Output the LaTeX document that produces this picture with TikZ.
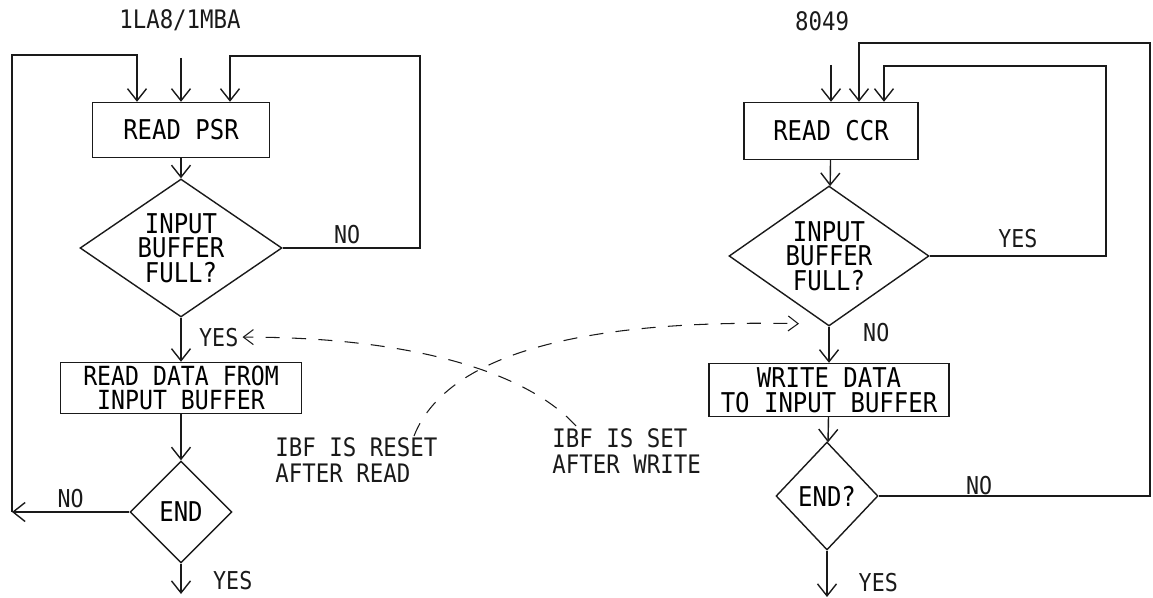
\documentclass[tikz,border=0pt]{standalone}
\usepackage{fontspec}
\setmainfont{DejaVu Sans Mono}[FakeStretch=0.88]
\usetikzlibrary{positioning,arrows.meta,calc,shapes.geometric}
\definecolor{ink}{HTML}{1A1A1A}
\tikzset{
  box/.style={draw=ink,line width=0.8pt,inner sep=0pt,align=center,font=\fontsize{15.5}{14}\selectfont},
  decision/.style={draw=ink,line width=0.8pt,diamond,inner sep=0pt,align=center,font=\fontsize{15.5}{14}\selectfont},
  flow/.style={-{Straight Barb[length=2.4mm,width=3.8mm]},draw=ink,line width=0.8pt},
  dflow/.style={-{Straight Barb[length=2mm,width=3mm]},draw=ink,line width=0.6pt,dash pattern=on 8pt off 7pt},
  lbl/.style={font=\fontsize{14}{14}\selectfont,inner sep=2pt,text=ink},
  note/.style={align=left,font=\fontsize{14.5}{15}\selectfont,inner sep=0pt,text=ink}}

\begin{document}
\begin{tikzpicture}[x=0.02cm,y=-0.02cm]
  \useasboundingbox (0,0) rectangle (1153,598);
  % reading side
  \node[lbl,font=\fontsize{14.5}{15}\selectfont] (titleL) at (180,20) {1LA8/1MBA};
  \node[box,minimum width=3.54cm,minimum height=1.1cm] (psr) at (181,130) {READ PSR};
  \node[decision,minimum width=4.04cm,minimum height=2.76cm,shape aspect=1.45] (full1) at (181,248) {INPUT\\BUFFER\\FULL?};
  \node[box,minimum width=4.82cm,minimum height=1.02cm,font=\fontsize{15}{14}\selectfont] (rdbuf) at (181,388) {READ DATA FROM\\INPUT BUFFER};
  \node[decision,minimum width=2.04cm,minimum height=2.04cm] (end1) at (181,512) {END};
  \coordinate (inL) at (181,58);
  \coordinate (noL) at (12,512);
  \coordinate (topL) at (12,55);
  \coordinate (topR) at (420,56);
  \coordinate (outL) at (181,594);
  \draw[flow] (inL) -- (psr.north);
  \draw[flow] (noL) -- (topL) -| ([xshift=-0.88cm]psr.north);
  \draw[flow] (full1.east) -- node[lbl,above,pos=0.47]{NO} (full1.east -| topR) -- (topR) -| ([xshift=0.98cm]psr.north);
  \draw[flow] (psr) -- (full1);
  \draw[flow] (full1) -- node[lbl,right,pos=0.44,xshift=0.28cm] (yes1) {YES} (rdbuf);
  \draw[flow] (rdbuf) -- (end1);
  \draw[flow] (end1.west) -- node[lbl,above]{NO} (noL);
  \draw[flow] (end1) -- node[lbl,right,pos=0.55,xshift=0.56cm]{YES} (outL);
  % writing side
  \node[lbl,font=\fontsize{14.5}{15}\selectfont] (titleR) at (822,21) {8049};
  \node[box,minimum width=3.48cm,minimum height=1.14cm] (ccr) at (831,131) {READ CCR};
  \node[decision,minimum width=4cm,minimum height=2.8cm,shape aspect=1.43] (full2) at (829,256) {INPUT\\BUFFER\\FULL?};
  \node[box,minimum width=4.8cm,minimum height=1.06cm] (wrbuf) at (829,390) {WRITE DATA\\TO INPUT BUFFER};
  \node[decision,minimum width=2.04cm,minimum height=2.16cm] (end2) at (827,496) {END?};
  \coordinate (inR) at (831,65);
  \coordinate (farR) at (1150,43);
  \coordinate (nearR) at (1106,66);
  \coordinate (outR) at (827,597);
  \draw[flow] (inR) -- (ccr.north);
  \draw[flow] (end2.east) -- node[lbl,anchor=base,pos=0.37,yshift=1pt]{NO} (end2.east -| farR) -- (farR) -| ([xshift=0.56cm]ccr.north);
  \draw[flow] (full2.east) -- node[lbl,above,yshift=2pt]{YES} (full2.east -| nearR) -- (nearR) -| ([xshift=1.06cm]ccr.north);
  \draw[flow] (ccr) -- (full2);
  \draw[flow] (full2) -- node[lbl,right,pos=0.16,xshift=0.6cm]{NO} (wrbuf);
  \draw[flow] (wrbuf) -- (end2);
  \draw[flow] (end2) -- node[lbl,right,pos=0.68,xshift=0.55cm]{YES} (outR);
  % flag notes
  \node[note,anchor=north west] (resetnote) at (275,437) {IBF IS RESET\\AFTER READ};
  \node[note,anchor=north west] (setnote) at (552,428) {IBF IS SET\\AFTER WRITE};
  \draw[dflow] ($(setnote.north west)+(24,-2)$) .. controls (530,375) and (420,337) .. (yes1.east);
  \draw[dflow] ($(resetnote.north west)+(139,-1)$) .. controls (440,370) and (540,318) .. ([xshift=-0.6cm,yshift=0.06cm]full2.south);
\end{tikzpicture}
\end{document}
